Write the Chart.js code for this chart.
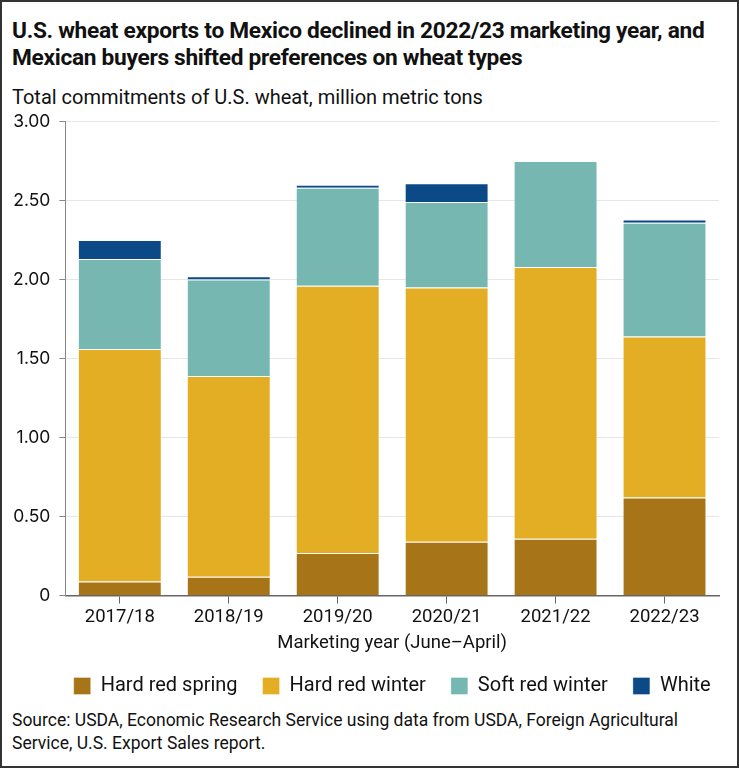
<!DOCTYPE html>
<html>
<head>
<meta charset="utf-8">
<script src="https://cdn.jsdelivr.net/npm/chart.js@4.4.0/dist/chart.umd.min.js"></script>
<style>
  html, body { margin: 0; padding: 0; background: #fff; }
  #frame { position: relative; width: 735px; height: 764px; border: 2px solid #333; overflow: hidden; background: #fff; }
  #title { position: absolute; left: 10px; top: 15px; font-family: Roboto, sans-serif; font-weight: 700; font-size: 22.7px; line-height: 27px; color: #111; letter-spacing: -0.3px; white-space: nowrap; }
  #ylab { position: absolute; left: 10px; top: 83px; font-family: Roboto, sans-serif; font-size: 20px; color: #111; white-space: nowrap; }
  #source { position: absolute; left: 10px; top: 707px; font-family: Roboto, sans-serif; font-size: 17.5px; line-height: 23px; color: #111; white-space: nowrap; }
  #wrap { position: absolute; left: 0; top: 100px; width: 735px; height: 604px; }
</style>
</head>
<body>
<div id="frame">
  <div id="title">U.S. wheat exports to Mexico declined in 2022/23 marketing year, and<br>Mexican buyers shifted preferences on wheat types</div>
  <div id="ylab">Total commitments of U.S. wheat, million metric tons</div>
  <div id="wrap"><canvas id="c"></canvas></div>
  <div id="source">Source: USDA, Economic Research Service using data from USDA, Foreign Agricultural<br>Service, U.S. Export Sales report.</div>
</div>
<script>
const categories = ["2017/18", "2018/19", "2019/20", "2020/21", "2021/22", "2022/23"];
const hardRedSpring = [0.09, 0.12, 0.27, 0.34, 0.36, 0.62];
const hardRedWinter = [1.47, 1.27, 1.69, 1.61, 1.72, 1.02];
const softRedWinter = [0.57, 0.61, 0.62, 0.54, 0.67, 0.72];
const white = [0.12, 0.02, 0.02, 0.12, 0.00, 0.02];
const yTicks = [0, 0.5, 1, 1.5, 2, 2.5, 3];

const mk = (label, data, color) => ({
  label, data, backgroundColor: color, borderColor: 'rgba(255,255,255,0.35)', borderWidth: 1,
  categoryPercentage: 0.77, barPercentage: 1.0
});

// centre the legend under the plot area rather than the whole canvas
const legendShift = {
  id: 'legendShift',
  afterLayout(chart) {
    const lg = chart.legend, ca = chart.chartArea;
    if (!lg || !ca) return;
    const shift = (ca.left + ca.right) / 2 - (lg.left + lg.right) / 2;
    lg.left += shift; lg.right += shift;
  }
};

new Chart(document.getElementById('c'), {
  type: 'bar',
  data: {
    labels: categories,
    datasets: [
      mk('Hard red spring', hardRedSpring, '#a77518'),
      mk('Hard red winter', hardRedWinter, '#e3ae23'),
      mk('Soft red winter', softRedWinter, '#76b7b1'),
      mk('White', white, '#0b4a87')
    ]
  },
  plugins: [legendShift],
  options: {
    responsive: true,
    maintainAspectRatio: false,
    animation: false,
    layout: { padding: { left: 2, right: 18, top: 6, bottom: 0 } },
    plugins: {
      tooltip: { enabled: false },
      legend: {
        position: 'bottom',
        labels: { boxWidth: 17, boxHeight: 17, padding: 25, color: '#111', font: { family: 'Roboto', size: 20 } }
      }
    },
    scales: {
      x: {
        stacked: true,
        grid: { display: true, drawOnChartArea: false, drawTicks: true, tickLength: 8, offset: false, color: '#666' },
        border: { display: true, color: '#666', width: 1.5 },
        ticks: { color: '#111', font: { family: 'Roboto', size: 18.5 }, padding: 3 },
        title: { display: true, text: 'Marketing year (June–April)', color: '#111', font: { family: 'Roboto', size: 18.5 }, padding: { top: 0, bottom: -3 } }
      },
      y: {
        stacked: true,
        min: 0, max: 3,
        afterBuildTicks: (s) => { s.ticks = yTicks.map(v => ({ value: v })); },
        grid: { color: '#e6e6e6', tickColor: '#888', tickLength: 6 },
        border: { display: true, color: '#888', width: 1 },
        ticks: { color: '#111', font: { family: 'Inter', size: 17.5 }, padding: 9,
          callback: (v) => v === 0 ? '0' : Number(v).toFixed(2) }
      }
    }
  }
});
</script>
</body>
</html>
